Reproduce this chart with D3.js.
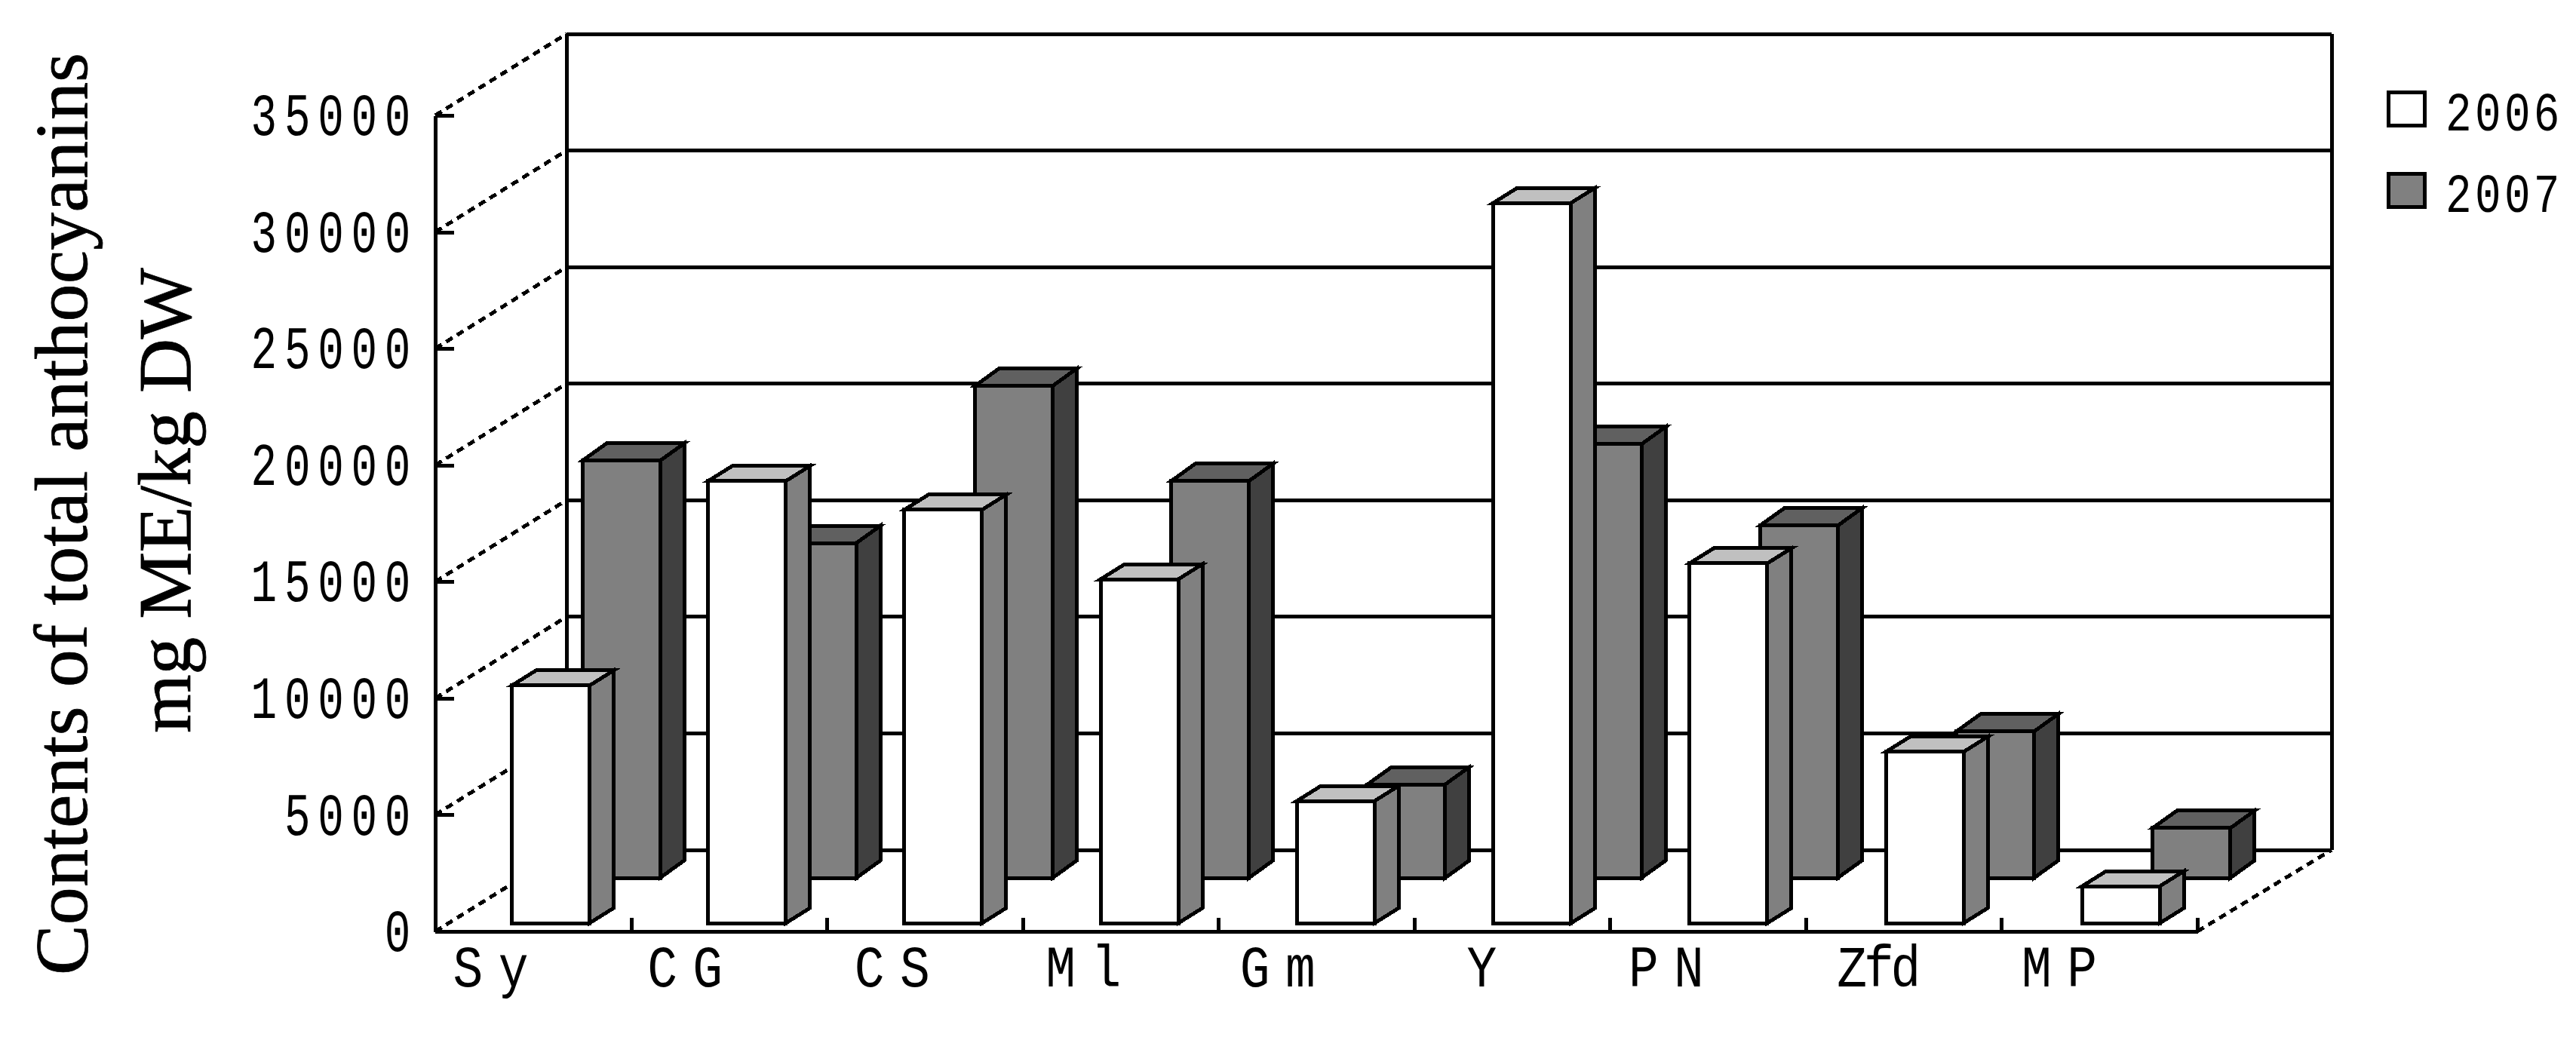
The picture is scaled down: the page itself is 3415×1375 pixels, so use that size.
<!DOCTYPE html>
<html>
<head>
<meta charset="utf-8">
<script src="https://cdn.jsdelivr.net/npm/d3@7"></script>
<style>
  html, body { margin: 0; padding: 0; background: #fff; }
  svg { display: block; }
  .edge { shape-rendering: crispEdges; }
  text { fill: #000; }
</style>
</head>
<body>
<div id="chart"></div>
<script>
// Values
const categories = ["Sy", "CG", "CS", "Ml", "Gm", "Y", "PN", "Zfd", "MP"];
const values2006 = [10190, 18960, 17730, 14750, 5240, 30890, 15430, 7345, 1585];
const values2007 = [17890, 14360, 21100, 17020, 4010, 18600, 15110, 6280, 2135];
const yTicks = [0, 5000, 10000, 15000, 20000, 25000, 30000, 35000];
const seriesNames = ["2006", "2007"];
const titleLines = ["Contents of total anthocyanins", "mg ME/kg DW"];

const svg = d3.select("#chart").append("svg")
  .attr("width", 3415)
  .attr("height", 1375);

// Front plane of the fake 3D box, the back wall is this shifted by depth
const margin = { top: 153, bottom: 140, left: 577, right: 502 };
const width = 3415;
const height = 1375;
const depth = { x: 174, y: 108 };
const yScale = d3.scaleLinear().domain([0, 35000]).range([height - margin.bottom, margin.top]);
const xAxisScale = d3.scaleBand().domain(categories).range([margin.left, width - margin.right]);
const xEdges = d3.scaleLinear().domain([0, categories.length]).range(xAxisScale.range());
// bars drift a little wider than the axis in the original
const xScale = d3.scaleBand().domain(categories).range([margin.left, width - margin.right + 6]);
const lineW = 5;

// Bar placement inside a band, per series
const seriesStyle = [
  { offset: 101.5, width: 103, lift: 11, topDepth: 20, front: "#ffffff", top: "#c0c0c0", side: "#808080" },
  { offset: 195, width: 103, lift: 71, topDepth: 23, front: "#808080", top: "#606060", side: "#404040" }
];
const barDepthX = 32;

// Back wall
const wall = svg.append("g");
const [floorLeft, floorRight] = xAxisScale.range();
const wallLeft = floorLeft + depth.x;
const wallRight = floorRight + depth.x + 4;

wall.selectAll(".grid")
  .data(yTicks)
  .join("line")
  .attr("class", "grid edge")
  .attr("x1", wallLeft)
  .attr("x2", wallRight)
  .attr("y1", d => yScale(d) - depth.y)
  .attr("y2", d => yScale(d) - depth.y)
  .attr("stroke", "#000")
  .attr("stroke-width", lineW);

wall.selectAll(".wall-edge")
  .data([wallLeft, wallRight])
  .join("line")
  .attr("class", "wall-edge edge")
  .attr("x1", d => d)
  .attr("x2", d => d)
  .attr("y1", yScale(35000) - depth.y)
  .attr("y2", yScale(0) - depth.y)
  .attr("stroke", "#000")
  .attr("stroke-width", lineW);

// Diagonals on the left wall and right of the floor
wall.selectAll(".diag")
  .data(yTicks.map(t => ({ x: floorLeft, x2: wallLeft, t })).concat([{ x: floorRight, x2: wallRight, t: 0 }]))
  .join("line")
  .attr("class", "diag edge")
  .attr("x1", d => d.x)
  .attr("y1", d => yScale(d.t))
  .attr("x2", d => d.x2)
  .attr("y2", d => yScale(d.t) - depth.y)
  .attr("stroke", "#000")
  .attr("stroke-width", lineW)
  .attr("stroke-dasharray", "10 7");

// Bars, 2007 goes first since it stands behind 2006
function drawBars(values, style) {
  const g = svg.append("g");
  const bars = g.selectAll("g")
    .data(values.map((v, i) => ({ name: categories[i], value: v })))
    .join("g");

  const box = d => {
    const x0 = xScale(d.name) + style.offset;
    const x1 = x0 + style.width;
    const y0 = yScale(0) - style.lift;
    const y1 = yScale(d.value) - style.lift;
    return { x0, x1, y0, y1 };
  };

  bars.append("polygon")
    .attr("points", d => {
      const b = box(d);
      return [[b.x1, b.y1], [b.x1 + barDepthX, b.y1 - style.topDepth], [b.x1 + barDepthX, b.y0 - style.topDepth], [b.x1, b.y0]].join(" ");
    })
    .attr("fill", style.side);

  bars.append("polygon")
    .attr("points", d => {
      const b = box(d);
      return [[b.x0, b.y1], [b.x0 + barDepthX, b.y1 - style.topDepth], [b.x1 + barDepthX, b.y1 - style.topDepth], [b.x1, b.y1]].join(" ");
    })
    .attr("fill", style.top);

  bars.append("rect")
    .attr("x", d => box(d).x0)
    .attr("y", d => box(d).y1)
    .attr("width", style.width)
    .attr("height", d => box(d).y0 - box(d).y1)
    .attr("fill", style.front);

  bars.selectAll("polygon, rect")
    .attr("class", "edge")
    .attr("stroke", "#000")
    .attr("stroke-width", lineW)
    .attr("stroke-linejoin", "miter");
}

drawBars(values2007, seriesStyle[1]);
drawBars(values2006, seriesStyle[0]);

// Axes
const tickFont = "'Liberation Mono', monospace";
const tickSqueeze = 0.72;

const yAxis = svg.append("g")
  .attr("transform", `translate(${margin.left},0)`)
  .call(d3.axisLeft(yScale).tickValues(yTicks).tickFormat(d3.format("d")).tickSizeInner(-25).tickSizeOuter(0));

yAxis.selectAll("path, line")
  .attr("class", "edge")
  .attr("stroke", "#000")
  .attr("stroke-width", lineW);

// narrow tall digits, squeeze them sideways
yAxis.selectAll("text")
  .attr("x", -23 / tickSqueeze)
  .attr("transform", `scale(${tickSqueeze},1)`)
  .attr("font-family", tickFont)
  .attr("font-size", 80)
  .attr("letter-spacing", 13.5);

const xBase = yScale(0);

const xTicks = svg.append("g")
  .attr("transform", `translate(0,${xBase})`)
  .call(d3.axisBottom(xEdges).ticks(categories.length).tickFormat("").tickSizeInner(-18).tickSizeOuter(0));

xTicks.selectAll("path, line")
  .attr("class", "edge")
  .attr("stroke", "#000")
  .attr("stroke-width", lineW);

const xLabels = svg.append("g")
  .attr("transform", `translate(0,${xBase})`)
  .call(d3.axisBottom(xAxisScale).tickSize(0).tickPadding(18));

xLabels.select(".domain").remove();

const labelSqueeze = 0.85;
const labelShift = [-46, -48, -33, -39, -41, -30, -45, -35, -43];

xLabels.selectAll("text")
  .attr("dx", (d, i) => labelShift[i] / labelSqueeze)
  .attr("transform", `scale(${labelSqueeze},1)`)
  .attr("font-family", tickFont)
  .attr("font-size", 78)
  .attr("letter-spacing", d => d.length > 2 ? -5 : 24);

// Legend
const legend = svg.append("g")
  .selectAll("g")
  .data(seriesNames)
  .join("g")
  .attr("transform", (d, i) => `translate(3164,${120 + i * 108})`);

legend.append("rect")
  .attr("class", "edge")
  .attr("x", 2.5)
  .attr("y", 2.5)
  .attr("width", 48)
  .attr("height", 44)
  .attr("fill", (d, i) => seriesStyle[i].front)
  .attr("stroke", "#000")
  .attr("stroke-width", 5);

legend.append("text")
  .attr("x", 78 / 0.8)
  .attr("y", 53)
  .attr("transform", "scale(0.8,1)")
  .attr("font-family", tickFont)
  .attr("font-size", 72)
  .attr("letter-spacing", 5.5)
  .text(d => d);

// Rotated axis title, two lines
svg.selectAll(".title")
  .data(titleLines)
  .join("text")
  .attr("class", "title")
  .attr("transform", (d, i) => `translate(${[115, 252][i]},${[1293, 972][i]}) rotate(-90)`)
  .attr("font-family", "'Liberation Serif', serif")
  .attr("font-size", 100)
  .attr("stroke", "#000")
  .attr("stroke-width", 0.8)
  .attr("textLength", (d, i) => [1223, 617][i])
  .attr("lengthAdjust", "spacing")
  .text(d => d);
</script>
</body>
</html>
